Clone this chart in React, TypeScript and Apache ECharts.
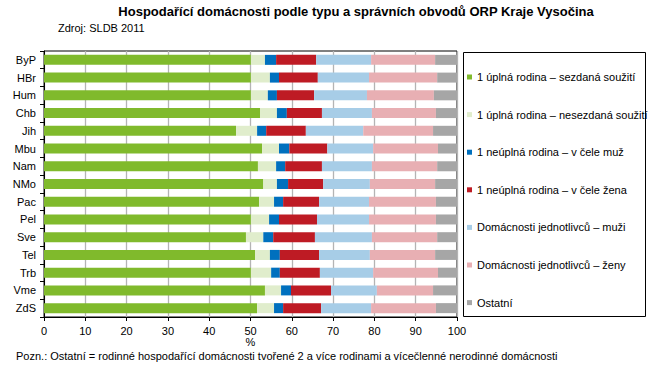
import React, { useEffect, useRef } from "react";
import * as echarts from "echarts";

const categories = ["ByP", "HBr", "Hum", "Chb", "Jih", "Mbu", "Nam", "NMo", "Pac", "Pel", "Sve", "Tel", "Trb", "Vme", "ZdS"];

const seriesNames = [
  "1 úplná rodina – sezdaná soužití",
  "1 úplná rodina – nesezdaná soužití",
  "1 neúplná rodina – v čele muž",
  "1 neúplná rodina – v čele žena",
  "Domácnosti jednotlivců – muži",
  "Domácnosti jednotlivců – ženy",
  "Ostatní",
];

const sezdana = [50.1, 50.1, 50.1, 52.3, 46.5, 52.8, 51.8, 53.1, 52.1, 50.1, 48.9, 51.1, 50.1, 53.5, 51.6];
const nesezdana = [3.4, 4.6, 4.1, 4.1, 5.1, 4.1, 4.4, 3.3, 3.6, 4.4, 4.2, 3.6, 4.9, 3.9, 4.1];
const neuplnaMuz = [2.7, 2.2, 2.2, 2.4, 2.2, 2.5, 2.2, 2.7, 2.2, 2.4, 2.4, 2.4, 2.1, 2.4, 2.2];
const neuplnaZena = [9.7, 9.4, 9.0, 8.5, 9.6, 9.2, 8.9, 8.5, 8.7, 9.2, 10.1, 9.5, 9.7, 9.7, 9.2];
const jednotlivciMuzi = [13.3, 12.4, 12.8, 12.1, 13.9, 11.1, 12.1, 11.3, 12.1, 12.6, 13.8, 12.3, 12.9, 11.1, 12.1];
const jednotlivciZeny = [15.5, 16.5, 16.2, 15.5, 16.9, 15.7, 15.8, 15.8, 16.2, 16.2, 15.8, 15.8, 15.7, 13.6, 15.7];
const ostatni = [5.3, 4.8, 5.6, 5.1, 5.8, 4.6, 4.8, 5.3, 5.1, 5.1, 4.8, 5.3, 4.6, 5.8, 5.1];

const seriesData = [sezdana, nesezdana, neuplnaMuz, neuplnaZena, jednotlivciMuzi, jednotlivciZeny, ostatni];
const colors = ["#80BA2C", "#E0EDCC", "#0070BE", "#BE1B24", "#A7CDE7", "#E8AFB3", "#A6A6A6"];

const xTicks = [0, 10, 20, 30, 40, 50, 60, 70, 80, 90, 100];

const titleText = "Hospodařící domácnosti podle typu a správních obvodů ORP Kraje Vysočina";
const sourceText = "Zdroj: SLDB 2011";
const noteText = "Pozn.: Ostatní = rodinné hospodařící domácnosti tvořené 2 a více rodinami a vícečlenné nerodinné domácnosti";
const axisName = "%";

const FONT = "Liberation Sans, Arial, sans-serif";

export default function App() {
  const ref = useRef<HTMLDivElement>(null);
  useEffect(() => {
    if (!ref.current) return;
    const chart = echarts.init(ref.current, undefined, { renderer: "svg" });
    chart.setOption({
      animation: false,
      backgroundColor: "#fff",
      textStyle: { fontFamily: FONT },
      grid: {
        left: 44,
        right: 208,
        top: 51,
        bottom: 58,
        show: true,
        borderColor: "#000",
        borderWidth: 1,
      },
      legend: {
        orient: "vertical",
        left: 462,
        top: 65,
        itemWidth: 5,
        itemHeight: 5,
        itemGap: 23.6,
        icon: "rect",
        textStyle: { fontFamily: FONT, fontSize: 11, color: "#000", lineHeight: 14 },
        data: seriesNames,
        selectedMode: false,
      },
      xAxis: {
        type: "value",
        min: 0,
        max: 100,
        interval: 10,
        axisLine: { show: true, lineStyle: { color: "#000" } },
        axisTick: { show: true, length: 4, lineStyle: { color: "#000" } },
        axisLabel: {
          fontSize: 11,
          color: "#000",
          fontFamily: FONT,
          margin: 8,
          formatter: (v: number) => (xTicks.includes(v) ? String(v) : ""),
        },
        splitLine: { show: true, lineStyle: { color: "#B4B4B4", width: 1.3 } },
      },
      yAxis: {
        type: "category",
        data: categories,
        inverse: true,
        axisLine: { show: true, lineStyle: { color: "#000" } },
        axisTick: { show: true, length: 4, lineStyle: { color: "#000" } },
        axisLabel: { fontSize: 11, color: "#000", fontFamily: FONT, margin: 8 },
        splitLine: { show: false },
      },
      series: seriesData.map((d, i) => ({
        name: seriesNames[i],
        type: "bar",
        stack: "total",
        data: d,
        barWidth: 10,
        itemStyle: { color: colors[i] },
        emphasis: { disabled: true },
      })),
      graphic: [
        {
          type: "text",
          x: 356,
          y: 5,
          style: { text: titleText, font: "bold 13px " + FONT, fill: "#000", align: "center", verticalAlign: "top" },
        },
        {
          type: "text",
          x: 58,
          y: 22,
          style: { text: sourceText, font: "11px " + FONT, fill: "#000", verticalAlign: "top" },
        },
        {
          type: "text",
          x: 250.5,
          y: 342,
          style: { text: axisName, font: "11px " + FONT, fill: "#000", align: "center", verticalAlign: "middle" },
        },
        {
          type: "rect",
          shape: { x: 463.5, y: 52.5, width: 182, height: 264 },
          style: { fill: "none", stroke: "#000", lineWidth: 1 },
        },
        {
          type: "text",
          x: 16,
          y: 350,
          style: { text: noteText, font: "11px " + FONT, fill: "#000", verticalAlign: "top" },
        },
      ],
    });
    return () => chart.dispose();
  }, []);
  return <div ref={ref} style={{ width: 665, height: 375, position: "absolute", left: 0, top: 0 }} />;
}
